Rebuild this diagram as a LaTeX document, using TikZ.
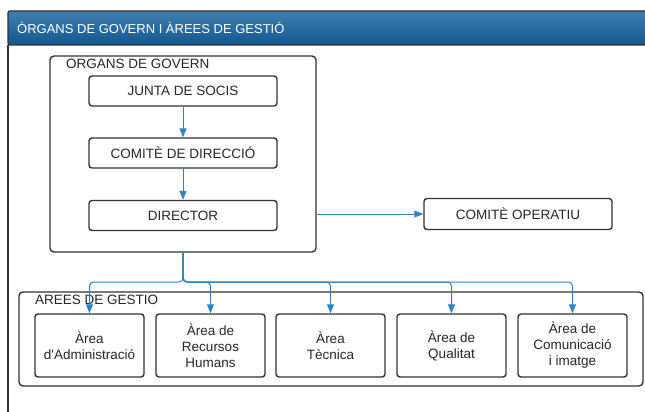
\documentclass[tikz,border=0pt]{standalone}
\usepackage{fontspec}
\setmainfont{Liberation Sans}[Ligatures=TeXOff]
\usetikzlibrary{arrows.meta}

\definecolor{hdrblue}{HTML}{11609E}
\definecolor{flowblue}{HTML}{2B85C2}
\definecolor{boxline}{HTML}{333333}

\tikzset{
  box/.style={draw=boxline, line width=1.4pt, rounded corners=3pt, align=center,
              font=\fontsize{13.5}{16}\selectfont, text=black!85, inner sep=0pt},
  group/.style={draw=boxline, line width=1.4pt, rounded corners=4pt, inner sep=0pt},
  grouptitle/.style={font=\fontsize{13.5}{16}\selectfont, text=black!85, inner sep=0pt, anchor=base west},
  flow/.style={draw=flowblue, line width=1pt, -{Triangle[length=9pt,width=7pt]}, rounded corners=4pt}
}

\begin{document}
\begin{tikzpicture}[x=1pt,y=-1pt]
\useasboundingbox (0,0) rectangle (645,412);
\clip (0,0) rectangle (645,412);
% frame and header
\draw[boxline, line width=1.4pt] (8,45) -- (8,420);
\draw[boxline, line width=1.4pt, top color=hdrblue!80!white, bottom color=hdrblue!90!black, rounded corners=2pt] (8,11) rectangle (660,45);
\node[anchor=west, text=white, font=\fontsize{13}{16}\selectfont, inner sep=0pt] (hdr) at (17,28) {ÒRGANS DE GOVERN I ÀREES DE GESTIÓ};
% organs de govern
\node[group, minimum width=266pt, minimum height=196pt] (gov) at (183,154) {};
\node[grouptitle] (govtitle) at (66,68) {ORGANS DE GOVERN};
\node[box, minimum width=188pt, minimum height=30pt] (junta) at (183,91) {JUNTA DE SOCIS};
\node[box, minimum width=188pt, minimum height=30pt] (comite) at (183,153) {COMITÈ DE DIRECCIÓ};
\node[box, minimum width=188pt, minimum height=30pt] (dir) at (183,215.5) {DIRECTOR};
\node[box, minimum width=188pt, minimum height=31pt] (oper) at (518,214) {COMITÈ OPERATIU};
\draw[flow] (junta) -- (comite);
\draw[flow] (comite) -- (dir);
\draw[flow] (gov.east |- oper.west) -- (oper.west);
% arees de gestio
\node[group, minimum width=624pt, minimum height=94pt] (arees) at (331,339) {};
\node[grouptitle] (areestitle) at (35,304) {AREES DE GESTIO};
\node[box, minimum width=109pt, minimum height=63pt] (adm) at (89.5,345.5) {Àrea\\d'Administració};
\node[box, minimum width=109pt, minimum height=63pt] (rrhh) at (210.5,345.5) {Àrea de\\Recursos\\Humans};
\node[box, minimum width=109pt, minimum height=63pt] (tec) at (330.5,345.5) {Àrea\\Tècnica};
\node[box, minimum width=109pt, minimum height=63pt] (qual) at (451.5,345.5) {Àrea de\\Qualitat};
\node[box, minimum width=109pt, minimum height=63pt] (com) at (572.5,345.5) {Àrea de\\Comunicació\\i imatge};
\coordinate (split) at (183,282);
\foreach \a in {adm,rrhh,tec,qual,com}
  \draw[flow] (gov.south) -- (split) -| (\a.north);
\end{tikzpicture}
\end{document}
